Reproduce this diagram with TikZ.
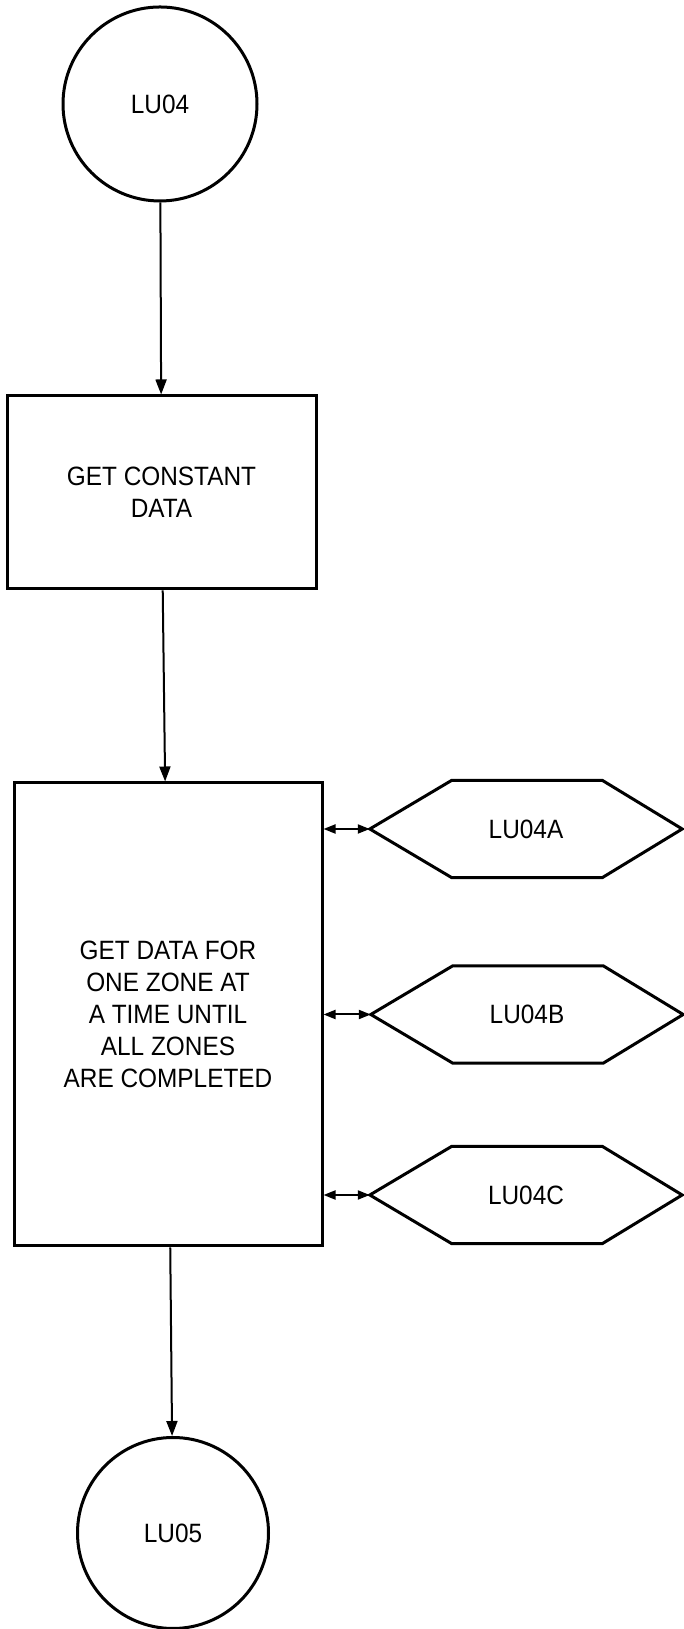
\documentclass[tikz,border=0pt]{standalone}
\usepackage{fontspec}
\setmainfont{Liberation Sans}[FakeStretch=0.92]
\usepackage{tikz}
\usetikzlibrary{arrows.meta, calc, positioning}

\begin{document}
\begin{tikzpicture}[x=1pt, y=1pt,
  font=\fontsize{26.5}{32}\selectfont,
  term/.style={circle, draw, line width=3pt, minimum size=194pt, inner sep=0pt},
  proc/.style={rectangle, draw, line width=3pt, align=center, inner sep=0pt},
  sub/.style={rectangle, minimum width=312pt, minimum height=97pt, inner sep=0pt},
  hexline/.style={line width=3pt, line join=miter},
  flow/.style={-{Triangle[length=15pt, width=11pt]}, line width=2pt},
  link/.style={{Triangle[length=12pt, width=9pt]}-{Triangle[length=12pt, width=9pt]}, line width=2pt}
]
\useasboundingbox (0,0) rectangle (684,1629);

% Main chain
\node[term] (lu04) at (160,1525) {LU04};
\node[proc, minimum width=309pt, minimum height=193pt] (const) at (161.5,1136.5) {GET CONSTANT\\DATA};
\node[proc, minimum width=308pt, minimum height=463pt] (zones) at (168,614.5)
  {GET DATA FOR\\ONE ZONE AT\\A TIME UNTIL\\ALL ZONES\\ARE COMPLETED};
\node[term, minimum size=191pt] (lu05) at (173,96) {LU05};

\draw[flow] (lu04) -- (const);
\draw[flow] (const) -- (zones);
\draw[flow] (zones) -- (lu05);

% Subroutines
\node[sub] (lu04a) at (526,800) {LU04A};
\node[sub] (lu04b) at (527,614.5) {LU04B};
\node[sub] (lu04c) at (526,434) {LU04C};

\foreach \s in {lu04a, lu04b, lu04c} {
  \draw[hexline] (\s.west) -- ($(\s.north west)+(82,0)$) -- ($(\s.north east)+(-80,0)$)
    -- (\s.east) -- ($(\s.south east)+(-80,0)$) -- ($(\s.south west)+(82,0)$) -- cycle;
  \draw[link] (zones.east |- \s.west) -- (\s.west);
}

\end{tikzpicture}
\end{document}
